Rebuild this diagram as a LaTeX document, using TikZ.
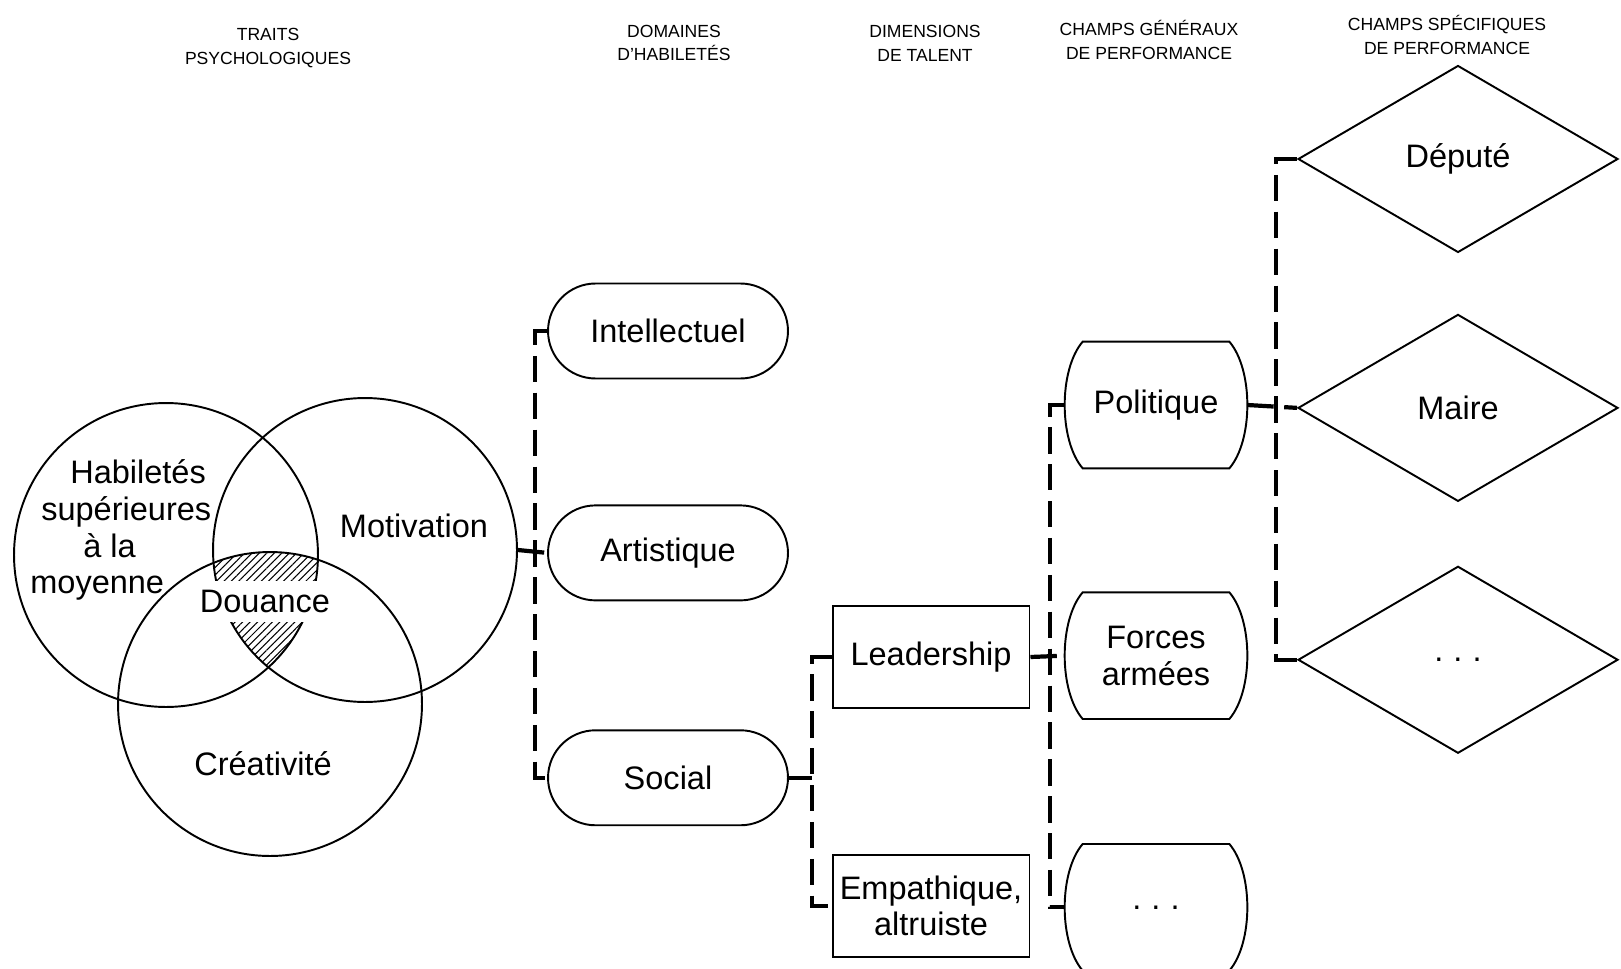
\documentclass[tikz,border=0pt]{standalone}
\usepackage{fontspec}
\setmainfont{Liberation Sans}
\usetikzlibrary{shapes.geometric, calc, positioning, patterns.meta}
\newcommand{\lbl}{\fontsize{18.5}{21}\selectfont}
\newcommand{\entete}{\fontsize{10}{13.6}\selectfont}
\newcommand{\pointsuite}{.\hspace{0.2cm}.\hspace{0.2cm}.}
\tikzstyle{trait} = [circle, minimum size=6.08cm, inner sep=0pt, draw=black, line width=1.1pt]
\tikzstyle{domaine} = [rectangle, rounded corners=0.95cm, minimum width=4.8cm, minimum
height=1.9cm, text centered, draw=black, line width=1.1pt, font=\lbl]
\tikzstyle{dimension} = [rectangle, minimum width=3.94cm, minimum height=2.04cm, align=center,
draw=black, line width=1.1pt, font=\lbl]
\tikzstyle{champ} = [rectangle, minimum width=3.64cm, minimum height=2.52cm, align=center, font=\lbl]
\tikzstyle{poste} = [diamond, minimum width=6.4cm, minimum height=3.74cm, inner sep=0pt,
draw=black, line width=1.1pt, font=\lbl]
\tikzstyle{entete} = [align=center, font=\entete]
\tikzstyle{lien} = [line width=2.4pt, dash pattern=on 15pt off 6pt]

\begin{document}
\begin{tikzpicture}[x=0.02cm, y=-0.02cm]
      \useasboundingbox (0,0) rectangle (1621,969);

      % titres des colonnes
      \node (tit1) [entete] at (268,48) {TRAITS\\PSYCHOLOGIQUES};
      \node (tit2) [entete] at (674,43) {DOMAINES\\D'HABILETÉS};
      \node (tit3) [entete] at (925,43) {DIMENSIONS\\DE TALENT};
      \node (tit4) [entete] at (1149,40) {CHAMPS GÉNÉRAUX\\DE PERFORMANCE};
      \node (tit5) [entete] at (1447,35) {CHAMPS SPÉCIFIQUES\\DE PERFORMANCE};

      % traits psychologiques
      \node (habil) [trait] at (166,555) {};
      \node (motiv) [trait] at (365,550) {};
      \node (creat) [trait] at (270,704) {};
      \begin{scope}
        \clip (166,555) circle (3.04cm);
        \clip (365,550) circle (3.04cm);
        \fill [pattern={Lines[angle=45, distance=3pt, line width=0.6pt]}] (270,704) circle (3.04cm);
      \end{scope}
      \node (habtxt) [align=left, anchor=west, inner sep=0pt, font=\lbl] at (30,530)
        {\hspace*{0.8cm}Habiletés\\\hspace*{0.22cm}supérieures\\\hspace*{1.06cm}à la\\moyenne};
      \node (motxt) [font=\lbl] at (414,526) {Motivation};
      \node (crtxt) [font=\lbl] at (263,764) {Créativité};
      \node (douance) [fill=white, inner xsep=1pt, minimum height=0.82cm, font=\lbl] at (265,601) {Douance};

      % domaines
      \node (intel) [domaine] at (668,331) {Intellectuel};
      \node (arti) [domaine, below=2.5cm of intel] {Artistique};
      \node (social) [domaine, below=2.56cm of arti] {Social};

      % dimensions
      \node (lead) [dimension] at (931,657) {Leadership};
      \node (emp) [dimension, below=2.9cm of lead] {Empathique,\\altruiste};

      % champs generaux
      \node (pol) [champ] at (1156,405) {Politique};
      \node (forc) [champ, below=2.48cm of pol] {Forces\\armées};
      \node (gdots) [champ, below=2.5cm of forc] {\pointsuite};
      \draw [line width=1.1pt] ($(pol.north west)+(18,0)$) -- ($(pol.north east)+(-18,0)$)
        .. controls ($(pol.north east)+(6,28)$) and ($(pol.south east)+(6,-28)$) .. ($(pol.south east)+(-18,0)$)
        -- ($(pol.south west)+(18,0)$)
        .. controls ($(pol.south west)+(-6,-28)$) and ($(pol.north west)+(-6,28)$) .. cycle;
      \draw [line width=1.1pt] ($(forc.north west)+(18,0)$) -- ($(forc.north east)+(-18,0)$)
        .. controls ($(forc.north east)+(6,28)$) and ($(forc.south east)+(6,-28)$) .. ($(forc.south east)+(-18,0)$)
        -- ($(forc.south west)+(18,0)$)
        .. controls ($(forc.south west)+(-6,-28)$) and ($(forc.north west)+(-6,28)$) .. cycle;
      \draw [line width=1.1pt] ($(gdots.north west)+(18,0)$) -- ($(gdots.north east)+(-18,0)$)
        .. controls ($(gdots.north east)+(6,28)$) and ($(gdots.south east)+(6,-28)$) .. ($(gdots.south east)+(-18,0)$)
        -- ($(gdots.south west)+(18,0)$)
        .. controls ($(gdots.south west)+(-6,-28)$) and ($(gdots.north west)+(-6,28)$) .. cycle;

      % champs specifiques
      \node (depute) [poste] at (1458,159) {Député};
      \node (maire) [poste, below=1.2cm of depute] {Maire};
      \node (sdots) [poste, below=1.26cm of maire] {\pointsuite};

      % liens
      \coordinate (sp2) at (535,0);
      \coordinate (sp3) at (812,0);
      \coordinate (sp4) at (1050,0);
      \coordinate (sp5) at (1276,0);
      \draw [lien] (intel.west) -- (intel.west -| sp2) -- (social.west -| sp2) -- (social.west);
      \draw [lien] (motiv.east) -- (arti.west);
      \draw [lien] (lead.west) -- (lead.west -| sp3) -- (emp.west -| sp3) -- (emp.west);
      \draw [lien] (social.east) -- (social.east -| sp3);
      \draw [lien] (pol.west) -- (pol.west -| sp4) -- (gdots.west -| sp4) -- (gdots.west);
      \draw [lien] (lead.east) -- (forc.west);
      \draw [lien] (depute.west) -- (depute.west -| sp5) -- (sdots.west -| sp5) -- (sdots.west);
      \draw [lien] (pol.east) -- (maire.west);
    \end{tikzpicture}
\end{document}
